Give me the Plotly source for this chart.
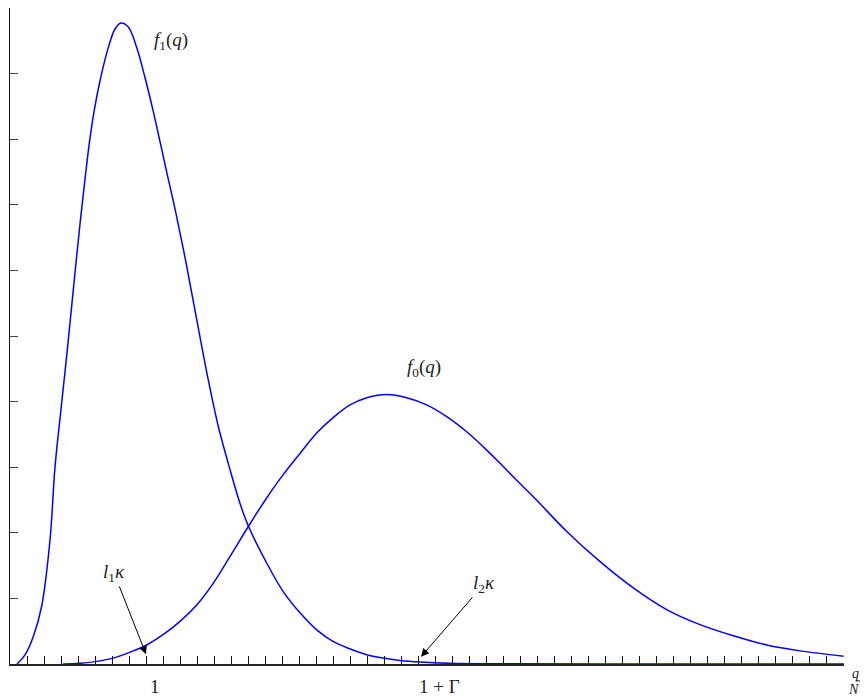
import plotly.graph_objects as go

# samples (x = q/N, y = density, arbitrary units)
q_f1 = [0.041, 0.088, 0.137, 0.186, 0.235, 0.264, 0.294, 0.323, 0.353, 0.382,
        0.411, 0.441, 0.466, 0.495, 0.533, 0.578, 0.617, 0.652, 0.695, 0.744,
        0.793, 0.842, 0.885, 0.924, 0.971, 1.028, 1.087, 1.165, 1.224, 1.293,
        1.351, 1.401, 1.508, 1.606, 1.704, 1.802, 1.900, 1.998, 2.096, 2.193,
        2.291, 2.409, 2.585, 2.879, 3.467, 4.900]
f1_vals = [0.0, 0.14, 0.42, 0.88, 1.89, 2.99, 3.75, 4.45, 5.21, 5.97,
           6.70, 7.40, 7.94, 8.44, 8.94, 9.40, 9.68, 9.77, 9.71, 9.40,
           8.94, 8.42, 7.92, 7.46, 6.92, 6.20, 5.39, 4.33, 3.62, 2.96,
           2.45, 2.10, 1.54, 1.10, 0.78, 0.52, 0.34, 0.23, 0.14, 0.09,
           0.055, 0.03, 0.01, 0.003, 0.0, 0.0]

q_f0 = [0.311, 0.411, 0.509, 0.607, 0.705, 0.803, 0.901, 0.999, 1.097, 1.194,
        1.293, 1.401, 1.508, 1.606, 1.704, 1.802, 1.900, 1.998, 2.096, 2.213,
        2.331, 2.448, 2.566, 2.683, 2.781, 2.879, 2.977, 3.075, 3.271, 3.467,
        3.662, 3.858, 4.054, 4.250, 4.446, 4.642, 4.898]
f0_vals = [0.0, 0.01, 0.04, 0.09, 0.18, 0.29, 0.45, 0.65, 0.90, 1.23,
           1.64, 2.10, 2.53, 2.89, 3.21, 3.52, 3.76, 3.95, 4.06, 4.11,
           4.06, 3.95, 3.77, 3.54, 3.31, 3.06, 2.80, 2.55, 2.02, 1.56,
           1.16, 0.83, 0.60, 0.43, 0.29, 0.20, 0.12]

# axis label positions (q/N)
x_label_pos = [0.852, 2.526]
x_label_text = ["1", "1 + Γ"]

SERIF = "Liberation Serif"
BLUE = "#0000ff"

fig = go.Figure()
fig.add_trace(go.Scatter(x=q_f1, y=f1_vals, mode="lines", line_shape="spline",
                         line=dict(color=BLUE, width=1.5), showlegend=False))
fig.add_trace(go.Scatter(x=q_f0, y=f0_vals, mode="lines", line_shape="spline",
                         line=dict(color=BLUE, width=1.5), showlegend=False))

fig.update_xaxes(
    range=[0, 4.9], showgrid=False, zeroline=False,
    showline=True, linecolor="#222", linewidth=1.6,
    ticks="inside", tickmode="linear", tick0=0, dtick=0.1,
    ticklen=8, tickwidth=1, tickcolor="#111", showticklabels=False,
)
fig.update_yaxes(
    range=[0, 10], showgrid=False, zeroline=False,
    showline=True, linecolor="#111", linewidth=1.3,
    ticks="inside", tickmode="linear", tick0=0, dtick=1,
    ticklen=8, tickwidth=1, tickcolor="#444", showticklabels=False,
)

font = dict(family=SERIF, size=19, color="#222")

# curve names
fig.add_annotation(x=0.946, y=9.50, text="<i>f</i><sub>1</sub>(<i>q</i>)",
                   showarrow=False, font=font)
fig.add_annotation(x=2.432, y=4.51, text="<i>f</i><sub>0</sub>(<i>q</i>)",
                   showarrow=False, font=font)

# thresholds with arrows
fig.add_annotation(x=0.799, y=0.15, ax=0.611, ay=1.39, axref="x", ayref="y",
                   text="<i>l</i><sub>1</sub><i>κ</i>", font=font,
                   showarrow=True, arrowhead=2, arrowsize=1.6, arrowwidth=1,
                   arrowcolor="black")
fig.add_annotation(x=2.415, y=0.11, ax=2.785, ay=1.22, axref="x", ayref="y",
                   text="<i>l</i><sub>2</sub><i>κ</i>", font=font,
                   showarrow=True, arrowhead=2, arrowsize=1.6, arrowwidth=1,
                   arrowcolor="black")

# x labels
for xp, txt in zip(x_label_pos, x_label_text):
    fig.add_annotation(x=xp, y=0, text=txt, showarrow=False, yanchor="middle",
                       yshift=-22, font=font)

# q/N fraction just past the end of the axis
small = dict(family=SERIF, size=14, color="#222")
fig.add_annotation(x=1.0204, y=0, xref="paper", yref="paper", text="<i>q</i>",
                   showarrow=False, yanchor="middle", yshift=-9, font=small)
fig.add_annotation(x=1.0204, y=0, xref="paper", yref="paper", text="<i>N</i>",
                   showarrow=False, yanchor="middle", yshift=-25, font=small)
fig.add_shape(type="line", xref="paper", yref="paper",
              x0=1.0138, x1=1.027, y0=-0.0258, y1=-0.0258,
              line=dict(color="#222", width=1))

# page body adds an 8px offset, so the figure is sized to fit inside it
fig.update_layout(
    width=860, height=688,
    margin=dict(l=2, r=24, t=0, b=32),
    paper_bgcolor="white", plot_bgcolor="white",
)

fig.write_html("out.html")
